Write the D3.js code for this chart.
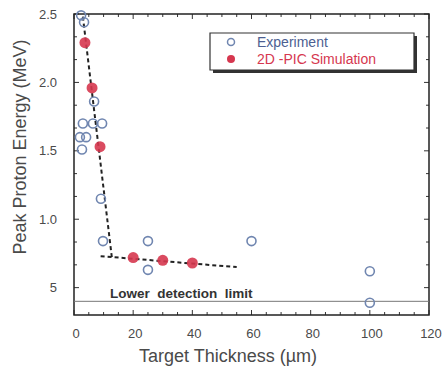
<!DOCTYPE html>
<html>
<head>
<meta charset="utf-8">
<script src="https://cdn.jsdelivr.net/npm/d3@7"></script>
</head>
<body style="margin:0;background:#fff">
<svg id="chart" width="448" height="369" font-family="Liberation Sans, Arial, sans-serif"></svg>
<script>
// Experiment (open circles), thickness in um vs peak energy in MeV
const expThickness = [2.4, 3.4, 6.8, 3.0, 6.4, 9.5, 2.0, 4.1, 2.7, 9.1, 9.8, 25, 25, 60, 100, 100];
const expEnergy    = [2.49, 2.44, 1.86, 1.70, 1.70, 1.70, 1.60, 1.60, 1.51, 1.15, 0.84, 0.84, 0.63, 0.84, 0.62, 0.39];

// 2D-PIC simulation (filled red)
const simThickness = [3.7, 6.1, 8.8, 20, 30, 40];
const simEnergy    = [2.29, 1.96, 1.53, 0.72, 0.70, 0.68];

// dashed guide lines
const steepX = [3.0, 12.8];
const steepY = [2.48, 0.72];
const flatX = [9, 55];
const flatY = [0.73, 0.65];

const detectionLimit = 0.40;

const xTicks = [0, 20, 40, 60, 80, 100, 120];
const xTickLabels = ["0", "20", "40", "60", "80", "100", "120"];
const yTicks = [2.5, 2.0, 1.5, 1.0, 0.5];
const yTickLabels = ["2.5", "2.0", "1.5", "1.0", "5"];

const svg = d3.select("#chart");
const mLeft = 74, mRight = 429, mTop = 14, mBottom = 315;

const x = d3.scaleLinear().domain([0, 120]).range([mLeft, mRight]);
const y = d3.scaleLinear().domain([0.3, 2.5]).range([mBottom, mTop]);

const expColor = "#7086b0";
const simColor = "#d6374f";
const textColor = "#4a4a4a";

// frame and inward ticks as one stroked path
const xMinor = d3.range(0, 121, 5);
const yMinor = d3.range(0, 13).map(i => 0.5 + i / 6);
const ticks = d3.path();
xMinor.forEach(v => {
  const len = v % 20 === 0 ? 5 : 3;
  ticks.moveTo(x(v), mBottom); ticks.lineTo(x(v), mBottom - len);
  ticks.moveTo(x(v), mTop); ticks.lineTo(x(v), mTop + len);
});
yMinor.forEach(v => {
  const len = Math.abs(v * 2 - Math.round(v * 2)) < 0.01 ? 5 : 3;
  ticks.moveTo(mLeft, y(v)); ticks.lineTo(mLeft + len, y(v));
  ticks.moveTo(mRight, y(v)); ticks.lineTo(mRight - len, y(v));
});
svg.append("path").attr("d", ticks.toString())
  .attr("fill", "none").attr("stroke", "#333").attr("stroke-width", 1)
  .attr("stroke-dasharray", "5000,0");

const frame = d3.path();
frame.moveTo(mLeft, mTop); frame.lineTo(mRight, mTop); frame.lineTo(mRight, mBottom);
frame.lineTo(mLeft, mBottom); frame.closePath();
svg.append("path").attr("d", frame.toString())
  .attr("fill", "none").attr("stroke", "#222").attr("stroke-width", 1.5)
  .attr("stroke-dasharray", "5000,0");

// detection limit line
svg.append("line")
  .attr("x1", mLeft).attr("x2", mRight)
  .attr("y1", y(detectionLimit)).attr("y2", y(detectionLimit))
  .attr("stroke", "#777").attr("stroke-width", 1);

svg.append("text")
  .attr("x", 110).attr("y", 298)
  .attr("font-size", 13.5).attr("font-weight", "bold")
  .attr("fill", "#333")
  .text("Lower\u00a0\u00a0detection\u00a0\u00a0limit");

// tick labels
svg.append("g").selectAll("text")
  .data(xTicks)
  .join("text")
  .attr("x", d => x(d) + 2).attr("y", 338)
  .attr("text-anchor", "middle")
  .attr("font-size", 13).attr("fill", textColor)
  .text((d, i) => xTickLabels[i]);

svg.append("g").selectAll("text")
  .data(yTicks)
  .join("text")
  .attr("x", 57).attr("y", d => y(d) + 4.5)
  .attr("text-anchor", "end")
  .attr("font-size", 13).attr("fill", textColor)
  .text((d, i) => yTickLabels[i]);

// axis titles
svg.append("text")
  .attr("x", 228).attr("y", 362)
  .attr("text-anchor", "middle")
  .attr("font-size", 18).attr("fill", textColor)
  .text("Target Thickness (\u00b5m)");

svg.append("text")
  .attr("transform", "translate(26,147) rotate(-90)")
  .attr("text-anchor", "middle")
  .attr("font-size", 18).attr("fill", textColor)
  .text("Peak Proton Energy (MeV)");

// dashed fit lines
const fitLine = d3.line().x(d => x(d[0])).y(d => y(d[1]));
[[steepX, steepY], [flatX, flatY]].forEach(([xs, ys]) => {
  svg.append("path")
    .attr("d", fitLine(xs.map((v, i) => [v, ys[i]])))
    .attr("fill", "none").attr("stroke", "#222")
    .attr("stroke-width", 2).attr("stroke-dasharray", "4,3");
});

// experiment points
svg.append("g").selectAll("circle")
  .data(expThickness.map((v, i) => [v, expEnergy[i]]))
  .join("circle")
  .attr("cx", d => x(d[0])).attr("cy", d => y(d[1]))
  .attr("r", 4.5)
  .attr("fill", "none").attr("stroke", expColor).attr("stroke-width", 1.6);

// simulation points
svg.append("g").selectAll("circle")
  .data(simThickness.map((v, i) => [v, simEnergy[i]]))
  .join("circle")
  .attr("cx", d => x(d[0])).attr("cy", d => y(d[1]))
  .attr("r", 5.5)
  .attr("fill", simColor).attr("fill-opacity", 0.9);

// legend box with drop shadow
svg.append("path").attr("d", "M415.5,36V71.5H213")
  .attr("fill", "none").attr("stroke", "#333").attr("stroke-width", 3)
  .attr("stroke-dasharray", "5000,0");
svg.append("path").attr("d", "M210,33H414V70H210Z")
  .attr("fill", "#fff").attr("stroke", "#333").attr("stroke-width", 1.2)
  .attr("stroke-dasharray", "5000,0");
svg.append("circle").attr("cx", 231).attr("cy", 42).attr("r", 3.5)
  .attr("fill", "none").attr("stroke", expColor).attr("stroke-width", 1.5);
svg.append("circle").attr("cx", 231).attr("cy", 59).attr("r", 4)
  .attr("fill", simColor);
svg.append("text").attr("x", 257).attr("y", 47)
  .attr("font-size", 14).attr("fill", "#4d5f92").text("Experiment");
svg.append("text").attr("x", 257).attr("y", 64)
  .attr("font-size", 14).attr("fill", simColor).text("2D -PIC Simulation");
</script>
</body>
</html>
